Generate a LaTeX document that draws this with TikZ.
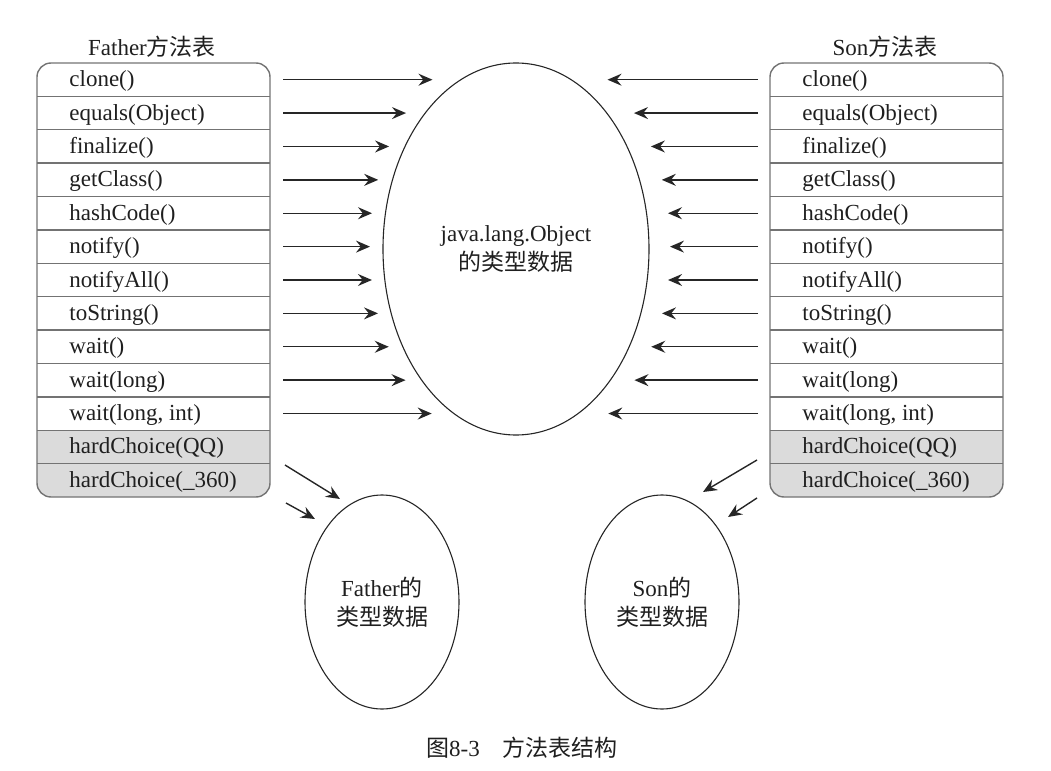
\documentclass[tikz,border=0pt]{standalone}
\usepackage{fontspec}
\setmainfont{Liberation Serif}
\newfontfamily\cjk{Noto Sans CJK SC}
\usetikzlibrary{arrows.meta,shapes.geometric}

\tikzset{
  txt/.style={font=\fontsize{11.5}{14.5}\selectfont, inner sep=0pt, text=black!88},
  arr/.style={-{Stealth[length=7pt,width=6pt,inset=2.4pt]}, line width=0.7pt, black!85},
  tbl/.style={draw=black!55, line width=0.7pt},
  typedata/.style={ellipse, draw=black!85, line width=0.55pt, inner sep=0pt, align=center, txt}
}

\begin{document}
\begin{tikzpicture}[x=0.5pt,y=-0.5pt]
    \useasboundingbox (0,0) rectangle (1051,771);
    \def\rh{33.385}
    \foreach \tx/\nm in {37/fa,770/so}{
        \begin{scope}
            \clip (\tx,{63+11*\rh}) rectangle ({\tx+233},497);
            \fill[black!14, rounded corners=7pt] (\tx,63) rectangle ({\tx+233},497);
        \end{scope}
        \foreach \k in {1,...,12}
            \draw[tbl] (\tx,{63+\k*\rh}) -- ({\tx+233},{63+\k*\rh});
        \draw[tbl, rounded corners=7pt] (\tx,63) rectangle ({\tx+233},497);
        \foreach \m [count=\k] in {clone(), equals(Object), finalize(), getClass(), hashCode(), notify(), notifyAll(), toString(), wait(), wait(long), {wait(long, int)}, hardChoice(QQ), hardChoice(\_360)}
            \node[txt, anchor=west] (\nm\k) at ({\tx+32},{64.5+(\k-0.5)*\rh}) {\m};
    }
    \node[txt] (fatitle) at (152,47) {Father{\cjk 方法表}};
    \node[txt] (sotitle) at (885,47) {Son{\cjk 方法表}};

    \node[typedata, minimum width=133pt, minimum height=186pt] (obj) at (516,249) {java.lang.Object\\{\cjk 的类型数据}};
    \node[typedata, minimum width=77pt, minimum height=107pt] (fadata) at (382,602) {Father{\cjk 的}\\{\cjk 类型数据}};
    \node[typedata, minimum width=77pt, minimum height=107pt] (sodata) at (662,602) {Son{\cjk 的}\\{\cjk 类型数据}};

    \foreach \k in {1,...,11}{
        \pgfmathsetmacro\ry{63+(\k-0.5)*\rh}
        \pgfmathsetmacro\dx{150*sqrt(1-((\ry-247)/206)^2)}
        \coordinate (fs\k) at (283,\ry);
        \coordinate (fe\k) at ({520-\dx},\ry);
        \coordinate (ss\k) at (758,\ry);
        \coordinate (se\k) at ({520+\dx},\ry);
        \draw[arr] (fs\k) -- (fe\k);
        \draw[arr] (ss\k) -- (se\k);
    }

    \coordinate (fq) at (285,465);
    \coordinate (fqe) at (340,499);
    \coordinate (fn) at (286,503);
    \coordinate (fne) at (315,519);
    \coordinate (sq) at (757,460);
    \coordinate (sqe) at (703,492);
    \coordinate (sn) at (757,498);
    \coordinate (sne) at (728,517);
    \draw[arr] (fq) -- (fqe);
    \draw[arr] (fn) -- (fne);
    \draw[arr] (sq) -- (sqe);
    \draw[arr] (sn) -- (sne);

    \node[txt] (caption) at (522,748) {{\cjk 图}8-3\quad{\cjk 方法表结构}};
\end{tikzpicture}
\end{document}
